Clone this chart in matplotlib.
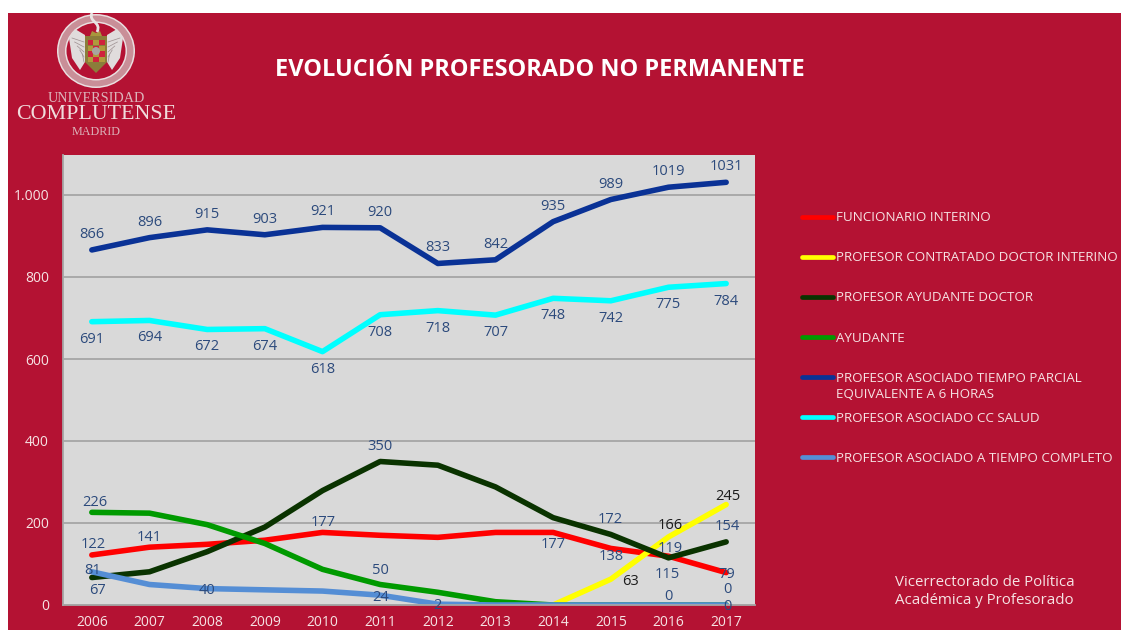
import matplotlib
matplotlib.use("Agg")
from matplotlib import pyplot as plt
from matplotlib.patches import Rectangle, Ellipse, Polygon, Circle
from matplotlib.path import Path
from matplotlib.patches import PathPatch

plt.rcParams['font.family'] = ['Open Sans', 'DejaVu Sans']

years = [2006, 2007, 2008, 2009, 2010, 2011, 2012, 2013, 2014, 2015, 2016, 2017]
y_ticks = [0, 200, 400, 600, 800, 1000]
y_tick_labels = ["0", "200", "400", "600", "800", "1.000"]

funcionario = [122, 141, 148, 158, 177, 170, 165, 177, 177, 138, 119, 79]
contratado = [None, None, None, None, None, None, None, None, 0, 63, 166, 245]
ayudante_doctor = [67, 81, 130, 190, 279, 350, 341, 288, 213, 172, 115, 154]
ayudante = [226, 224, 196, 150, 87, 50, 31, 8, 0, 0, 0, 0]
parcial = [866, 896, 915, 903, 921, 920, 833, 842, 935, 989, 1019, 1031]
salud = [691, 694, 672, 674, 618, 708, 718, 707, 748, 742, 775, 784]
completo = [81, 50, 40, 37, 34, 24, 2, 0, 0, 0, 0, 0]

series = [funcionario, contratado, ayudante_doctor, ayudante, parcial, salud, completo]
names = ["FUNCIONARIO INTERINO",
         "PROFESOR CONTRATADO DOCTOR INTERINO",
         "PROFESOR AYUDANTE DOCTOR",
         "AYUDANTE",
         "PROFESOR ASOCIADO TIEMPO PARCIAL\nEQUIVALENTE A 6 HORAS",
         "PROFESOR ASOCIADO CC SALUD",
         "PROFESOR ASOCIADO A TIEMPO COMPLETO"]
colors = ["#ff0000", "#ffff00", "#0a3300", "#009a00", "#0a3296", "#00ffff", "#558ed5"]

# etiquetas: (serie, indice del año, dx px, dy px)
red_labels = [(0, 0, 1, 12), (0, 1, 0, 11), (0, 4, 1, 11), (0, 8, 0, -11),
              (0, 9, 0, -7), (0, 10, 2, 9), (0, 11, 1, 0)]
yellow_labels = [(1, 9, 20, -1), (1, 10, 2, 13), (1, 11, 2, 10)]
dark_labels = [(2, 0, 6, -11), (2, 5, 0, 17), (2, 9, -1, 16), (2, 10, -1, -15), (2, 11, 1, 17)]
green_labels = [(3, 0, 3, 11), (3, 5, 0, 16), (3, 11, 1, 17)]
navy_labels = [(4, i, 0, 17) for i in range(12)]
cyan_labels = [(5, i, 0, -16) for i in range(12)]
blue_labels = [(6, 0, 1, 3), (6, 2, 0, 0), (6, 5, 0, -1), (6, 6, 0, 0), (6, 10, 0, 10), (6, 11, 1, 0)]

RED = "#b41233"
TEXT = "#f6e3e4"
LABEL = "#2c4a7c"
W, H = 1121, 630

fig = plt.figure(figsize=(W / 100, H / 100), dpi=100, facecolor="white")

# capa de fondo en pixeles
bg = fig.add_axes([0, 0, 1, 1], zorder=0)
bg.set_xlim(0, W)
bg.set_ylim(H, 0)
bg.axis("off")
bg.add_patch(Rectangle((8, 13), W - 8, H - 13, color=RED, lw=0))

# escudo
bg.add_patch(Ellipse((96, 51), 78, 74, fc="#eadfe0", ec="none"))
bg.add_patch(Ellipse((96, 51), 75, 71, fc="#c98f98", ec="none"))
bg.add_patch(Ellipse((96, 51), 62, 59, fc="#eadfe0", ec="none"))
bg.add_patch(Ellipse((96, 51), 59, 56, fc=RED, ec="none"))
left_wing = [(69, 38), (75, 29), (85, 35), (85, 62), (80, 70), (72, 58)]
right_wing = [(123, 38), (117, 29), (107, 35), (107, 62), (112, 70), (120, 58)]
bg.add_patch(Polygon(left_wing, fc="#e0dcdc", ec="none"))
bg.add_patch(Polygon(right_wing, fc="#e0dcdc", ec="none"))
for k in range(5):
    bg.plot([72 + k * 2.6, 84], [38 + k * 4, 42 + k * 5], color="#9c8f90", lw=0.5)
    bg.plot([120 - k * 2.6, 108], [38 + k * 4, 42 + k * 5], color="#9c8f90", lw=0.5)
bg.add_patch(Polygon([(85, 36), (107, 36), (107, 62), (96, 73), (85, 62)], fc="#8b7d3a", ec="none"))
for r in range(4):
    for c in range(3):
        fc = "#d0223c" if (r + c) % 2 == 0 else "#b09a3c"
        bg.add_patch(Rectangle((87.5 + c * 5.8, 40 + r * 5.6), 5.6, 5.4, fc=fc, ec="none"))
bg.add_patch(Circle((96, 51), 4, fc="#a8a4a0", ec="none"))
bg.add_patch(Polygon([(90, 36), (102, 36), (100, 31), (96, 33), (92, 31)], fc="#a8963c", ec="none"))
bg.add_patch(PathPatch(Path([(92, 13), (88, 22), (102, 22), (97, 32)],
                            [Path.MOVETO, Path.CURVE4, Path.CURVE4, Path.CURVE4]),
                       fc="none", ec="#e8e4e2", lw=2))
serif = ['Liberation Serif', 'DejaVu Serif']
bg.text(96.5, 98, "UNIVERSIDAD", color="#dcb4ba", fontsize=10.2, family=serif, ha="center", va="center")
bg.text(96, 114.5, "COMPLUTENSE", color="#f0dcdc", fontsize=15.8, family=serif, ha="center", va="center")
bg.text(96.5, 132, "MADRID", color="#dcb4ba", fontsize=8.7, family=serif, ha="center", va="center")

bg.text(539.5, 69.5, "EVOLUCIÓN PROFESORADO NO PERMANENTE", color="white", fontsize=16.9,
        fontweight="bold", ha="center", va="center")

bg.text(895, 582, "Vicerrectorado de Política", color=TEXT, fontsize=10.8, va="center")
bg.text(895, 600, "Académica y Profesorado", color=TEXT, fontsize=10.8, va="center")

# leyenda
rows = [216.5, 256.5, 296.5, 337, 377, 417, 457]
for name, color, row in zip(names, colors, rows):
    bg.plot([802, 833], [row, row], color=color, lw=3.4, solid_capstyle="round")
    lines = name.split("\n")
    for k, line in enumerate(lines):
        bg.text(836, row + 1 + k * 16, line, color=TEXT, fontsize=9.6, va="center")

# grafico
ax = fig.add_axes([63 / W, 1 - 605 / H, 692 / W, 450 / H], zorder=1)
ax.set_facecolor("#d9d9d9")
x = list(range(len(years)))
ax.set_xlim(-0.5, len(years) - 0.5)
ax.set_ylim(0, 450 / 0.41)
ax.yaxis.grid(True, color="#a6a6a6", lw=1.3)
ax.set_axisbelow(True)
for s in ["top", "right"]:
    ax.spines[s].set_visible(False)
for s in ["left", "bottom"]:
    ax.spines[s].set_color("#a6a6a6")
    ax.spines[s].set_linewidth(1.3)

for values, color in zip(series, colors):
    xs = [i for i, v in zip(x, values) if v is not None]
    ys = [v for v in values if v is not None]
    ax.plot(xs, ys, color=color, lw=4, solid_joinstyle="round", solid_capstyle="round")

ax.set_xticks(x)
ax.set_xticklabels(years)
ax.set_yticks(y_ticks)
ax.set_yticklabels(y_tick_labels)
ax.tick_params(axis="both", length=0, labelcolor=TEXT, labelsize=10)
ax.tick_params(axis="x", pad=7)
ax.tick_params(axis="y", pad=10)

all_labels = red_labels + yellow_labels + dark_labels + green_labels + navy_labels + cyan_labels + blue_labels
for s, i, dx, dy in all_labels:
    c = "#1c1c1c" if s == 1 else LABEL
    ax.annotate(str(series[s][i]), (i, series[s][i]), xytext=(dx * 0.72, (dy - 1.5) * 0.72),
                textcoords="offset points", ha="center", va="center",
                color=c, fontsize=10.5, annotation_clip=False, clip_on=False)

plt.savefig("out.png", dpi=100, facecolor="white")
